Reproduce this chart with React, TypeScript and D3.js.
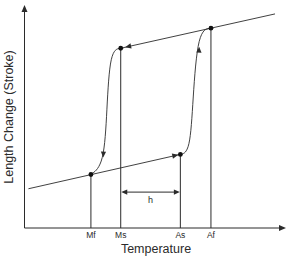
import React from 'react';
import * as d3 from 'd3';

// arbitrary units: temperature 0..100, length change 0..100
const lowerLine: [number, number][] = [[1.5, 17.6], [59.6, 33]];
const upperLine: [number, number][] = [[36.8, 80.6], [95.8, 96]];
const cooling: [number, number][] = [[36.8, 80.6], [32.7, 79.8], [31.5, 52.9], [30.4, 28.3], [25.4, 24]];
const heating: [number, number][] = [[59.6, 33], [63.3, 34.1], [64.4, 57.4], [66.3, 88.8], [71.3, 89.6]];
const transitions = [
  { label: 'Mf', t: 25.4, v: 24 },
  { label: 'Ms', t: 36.8, v: 80.6 },
  { label: 'As', t: 59.6, v: 33 },
  { label: 'Af', t: 71.3, v: 89.6 },
];
// arrow heads: tip and a point behind it
const arrows: { tip: [number, number]; from: [number, number] }[] = [
  { tip: [30.1, 31.6], from: [30.4, 40] },
  { tip: [66.8, 81.3], from: [66.4, 70] },
  { tip: [38.5, 81.1], from: [45, 82.8] },
  { tip: [58.8, 32.8], from: [50, 30.5] },
];
const hLevel = 16.1;

export default function App() {
  const width = 288;
  const height = 257;
  const x = d3.scaleLinear().domain([0, 100]).range([24.5, 286]);
  const y = d3.scaleLinear().domain([0, 100]).range([228, 5]);
  const ink = '#2b2b2b';
  const font = '"Liberation Sans", Arial, sans-serif';

  const line = d3.line<[number, number]>().x((d) => x(d[0])).y((d) => y(d[1]));
  const curve = d3.line<[number, number]>().x((d) => x(d[0])).y((d) => y(d[1])).curve(d3.curveBasis);

  const head = (tx: number, ty: number, fx: number, fy: number, len = 6, w = 2.6) => {
    const a = Math.atan2(ty - fy, tx - fx);
    const bx = tx - len * Math.cos(a);
    const by = ty - len * Math.sin(a);
    const px = -Math.sin(a) * w;
    const py = Math.cos(a) * w;
    return `M${tx},${ty}L${bx + px},${by + py}L${bx - px},${by - py}Z`;
  };

  const hA = x(transitions[1].t);
  const hB = x(transitions[2].t);

  return (
    <svg width={width} height={height} style={{ position: 'absolute', left: 0, top: 0, background: '#fff' }}>
      {/* axes */}
      <line x1={x(0)} y1={y(0)} x2={x(100) - 4} y2={y(0)} stroke={ink} strokeWidth={1} />
      <line x1={x(0)} y1={y(0)} x2={x(0)} y2={y(100) + 4} stroke={ink} strokeWidth={1} />
      <path d={head(x(100), y(0), x(90), y(0), 7, 3)} fill={ink} />
      <path d={head(x(0), y(100), x(0), y(90), 7, 3)} fill={ink} />

      {/* drop lines */}
      {transitions.map((d) => (
        <line key={d.label} x1={x(d.t)} y1={y(d.v)} x2={x(d.t)} y2={y(0)} stroke={ink} strokeWidth={1} />
      ))}

      <path d={line(lowerLine) || ''} fill="none" stroke={ink} strokeWidth={0.9} />
      <path d={line(upperLine) || ''} fill="none" stroke={ink} strokeWidth={0.9} />
      <path d={curve(cooling) || ''} fill="none" stroke={ink} strokeWidth={0.9} />
      <path d={curve(heating) || ''} fill="none" stroke={ink} strokeWidth={0.9} />

      {arrows.map((a, i) => (
        <path key={i} d={head(x(a.tip[0]), y(a.tip[1]), x(a.from[0]), y(a.from[1]))} fill={ink} />
      ))}

      {transitions.map((d) => (
        <circle key={d.label} cx={x(d.t)} cy={y(d.v)} r={2.4} fill="#111" />
      ))}

      {/* hysteresis width */}
      <line x1={hA + 3} y1={y(hLevel)} x2={hB - 3} y2={y(hLevel)} stroke={ink} strokeWidth={1} />
      <path d={head(hA + 0.5, y(hLevel), hB, y(hLevel))} fill={ink} />
      <path d={head(hB - 0.5, y(hLevel), hA, y(hLevel))} fill={ink} />
      <text x={(hA + hB) / 2} y={y(hLevel) + 11} textAnchor="middle" fontFamily={font} fontSize={9} fill={ink}>h</text>

      {transitions.map((d) => (
        <text key={d.label} x={x(d.t)} y={y(0) + 9.5} textAnchor="middle" fontFamily={font} fontSize={8.5} fill={ink}>
          {d.label}
        </text>
      ))}

      <text x={156} y={253} textAnchor="middle" fontFamily={font} fontSize={12.5} fill={ink}>Temperature</text>
      <text
        transform={`translate(13,117) rotate(-90)`}
        textAnchor="middle"
        fontFamily={font}
        fontSize={12.5}
        fill={ink}
      >
        Length Change (Stroke)
      </text>
    </svg>
  );
}
